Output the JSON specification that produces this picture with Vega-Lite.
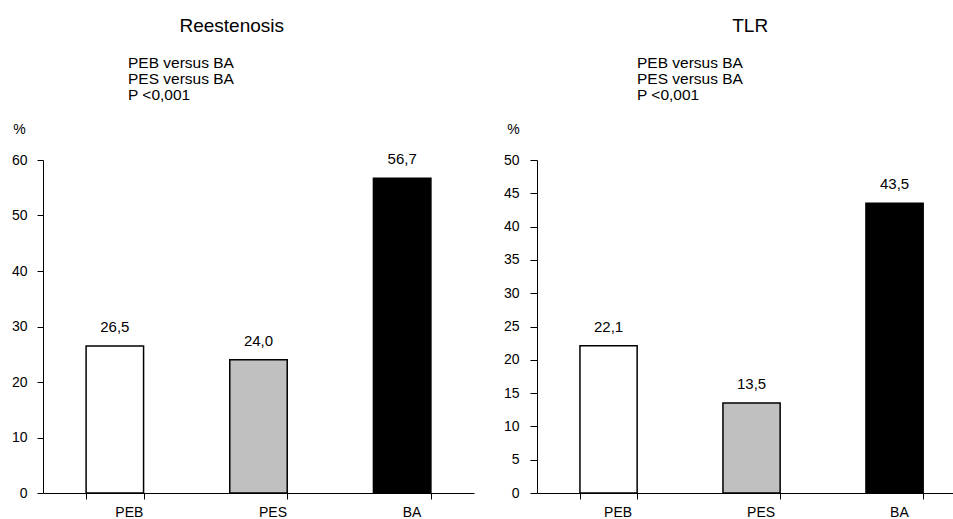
{
  "$schema": "https://vega.github.io/schema/vega-lite/v6.json",
  "padding": {"left": 11, "top": 16, "right": 0, "bottom": 1},
  "autosize": {"type": "pad"},
  "background": "white",
  "spacing": 29,
  "config": {
    "font": "Liberation Sans",
    "view": {"stroke": null},
    "locale": {"number": {"decimal": ",", "thousands": ".", "grouping": [3], "currency": ["", " €"]}},
    "axis": {"domainColor": "black", "tickColor": "black", "labelColor": "black", "labelFontSize": 14, "grid": false, "domainWidth": 1, "tickWidth": 1, "titleColor": "black", "titleFontWeight": "normal", "titleFontSize": 14, "labelOverlap": false},
    "title": {"color": "black", "fontWeight": "normal"}
  },
  "datasets": {
    "reest": [{"group": "PEB", "value": 26.5}, {"group": "PES", "value": 24.0}, {"group": "BA", "value": 56.7}],
    "tlr": [{"group": "PEB", "value": 22.1}, {"group": "PES", "value": 13.5}, {"group": "BA", "value": 43.5}]
  },
  "hconcat": [
    {
      "title": {"text": "Reestenosis", "fontSize": 19, "anchor": "middle", "frame": "bounds", "dx": -11, "offset": 20},
      "hconcat": [
        {
          "title": {"text": ["PEB versus BA", "PES versus BA", "P <0,001"], "fontSize": 15.5, "lineHeight": 16, "anchor": "start", "frame": "group", "dx": 85, "offset": 19},
          "width": 431,
          "height": 333,
          "data": {"name": "reest"},
          "encoding": {
            "x": {"field": "group", "type": "nominal", "sort": ["PEB", "PES", "BA"],
              "scale": {"paddingInner": 0.6, "paddingOuter": 0.3},
              "axis": {"title": null, "labelAngle": 0, "tickBand": "extent", "tickSize": 6, "labelPadding": 6, "labelFontSize": 14, "labelAlign": "left", "labelBaseline": "top"}},
            "y": {"field": "value", "type": "quantitative", "scale": {"domain": [0, 60]},
              "axis": {"values": [0, 10, 20, 30, 40, 50, 60], "title": "%", "titleAngle": 0, "titleX": -24, "titleY": -27, "titleAlign": "center", "titleBaseline": "alphabetic", "tickSize": 6, "labelPadding": 10}}
          },
          "layer": [
            {
              "mark": {"type": "bar", "stroke": "black", "strokeWidth": 1.5},
              "encoding": {
                "fill": {"field": "group", "type": "nominal", "scale": {"domain": ["PEB", "PES", "BA"], "range": ["white", "#c0c0c0", "black"]}, "legend": null}
              }
            },
            {
              "mark": {"type": "text", "dy": -14, "fontSize": 15, "baseline": "alphabetic", "color": "black"},
              "encoding": {
                "text": {"field": "value", "type": "quantitative", "format": ".1f"}
              }
            },
            {
              "data": {"values": [{"note": "P = ,61"}]},
              "mark": {"type": "text", "dx": -62, "fontSize": 15, "baseline": "middle", "color": "black"},
              "encoding": {
                "x": {"datum": "PES"},
                "y": {"datum": 42.7},
                "text": {"field": "note", "type": "nominal"}
              }
            }
          ]
        }
      ]
    },
    {
      "title": {"text": "TLR", "fontSize": 19, "anchor": "middle", "frame": "bounds", "dx": 22, "offset": 20},
      "hconcat": [
        {
          "title": {"text": ["PEB versus BA", "PES versus BA", "P <0,001"], "fontSize": 15.5, "lineHeight": 16, "anchor": "start", "frame": "group", "dx": 100, "offset": 19},
          "width": 416,
          "height": 333,
          "data": {"name": "tlr"},
          "encoding": {
            "x": {"field": "group", "type": "nominal", "sort": ["PEB", "PES", "BA"],
              "scale": {"paddingInner": 0.6, "paddingOuter": 0.2545, "align": 0.59},
              "axis": {"title": null, "labelAngle": 0, "tickBand": "extent", "tickExtra": false, "tickSize": 6, "labelPadding": 6, "labelFontSize": 14, "labelAlign": "left", "labelBaseline": "top", "labelOffset": -5}},
            "y": {"field": "value", "type": "quantitative", "scale": {"domain": [0, 50]},
              "axis": {"values": [0, 5, 10, 15, 20, 25, 30, 35, 40, 45, 50], "title": "%", "titleAngle": 0, "titleX": -24, "titleY": -27, "titleAlign": "center", "titleBaseline": "alphabetic", "tickSize": 7, "labelPadding": 11}}
          },
          "layer": [
            {
              "mark": {"type": "bar", "stroke": "black", "strokeWidth": 1.5},
              "encoding": {
                "fill": {"field": "group", "type": "nominal", "scale": {"domain": ["PEB", "PES", "BA"], "range": ["white", "#c0c0c0", "black"]}, "legend": null}
              }
            },
            {
              "mark": {"type": "text", "dy": -14, "fontSize": 15, "baseline": "alphabetic", "color": "black"},
              "encoding": {
                "text": {"field": "value", "type": "quantitative", "format": ".1f"}
              }
            },
            {
              "data": {"values": [{"note": "P = ,09"}]},
              "mark": {"type": "text", "dx": -58, "fontSize": 15, "baseline": "middle", "color": "black"},
              "encoding": {
                "x": {"datum": "PES"},
                "y": {"datum": 35.1},
                "text": {"field": "note", "type": "nominal"}
              }
            }
          ]
        }
      ]
    }
  ]
}
